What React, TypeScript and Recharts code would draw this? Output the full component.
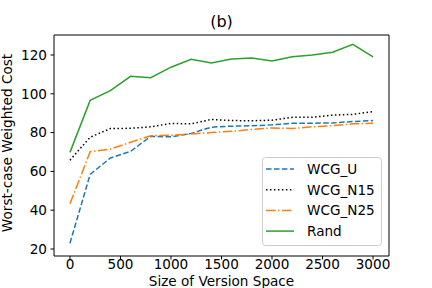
import React from "react"
import { LineChart, Line, XAxis, YAxis, ReferenceArea } from "recharts"

const sizes = [0, 200, 400, 600, 800, 1000, 1200, 1400, 1600, 1800, 2000, 2200, 2400, 2600, 2800, 3000]
const wcgU = [23.0, 58.5, 66.9, 70.3, 78.1, 77.8, 79.6, 82.8, 83.3, 83.5, 84.0, 84.8, 84.8, 85.0, 85.7, 86.2]
const wcgN15 = [65.8, 77.6, 82.1, 82.2, 83.0, 84.7, 84.5, 86.8, 86.2, 86.1, 86.4, 87.9, 87.9, 89.0, 89.4, 90.8]
const wcgN25 = [43.3, 70.1, 71.5, 75.0, 78.4, 78.6, 79.3, 80.0, 80.7, 81.6, 82.4, 82.1, 83.0, 83.6, 84.5, 84.8]
const rand = [69.8, 96.6, 101.6, 109.0, 108.3, 113.7, 117.8, 115.9, 117.9, 118.5, 116.9, 119.1, 120.0, 121.4, 125.5, 119.0]

const xTicks = [0, 500, 1000, 1500, 2000, 2500, 3000]
const yTicks = [20, 40, 60, 80, 100, 120]

const data = sizes.map((s, i) => ({ size: s, u: wcgU[i], n15: wcgN15[i], n25: wcgN25[i], rand: rand[i] }))

const series = [
  { key: "u", name: "WCG_U", color: "#1f77b4", dash: "5.55 2.4" },
  { key: "n15", name: "WCG_N15", color: "#000000", dash: "1.5 2.475" },
  { key: "n25", name: "WCG_N25", color: "#ff7f0e", dash: "9.6 2.4 1.5 2.4" },
  { key: "rand", name: "Rand", color: "#2ca02c", dash: undefined },
]

const font = "DejaVu Sans, sans-serif"
const FS = 13.6
const X_DOM: [number, number] = [-158, 3158]
const Y_DOM: [number, number] = [16.4, 130.3]

// matplotlib-style legend box, drawn on top of the plot
function LegendBox() {
  return (
    <svg width={120} height={89} style={{ position: "absolute", left: 262, top: 157 }}>
      <rect x={0.5} y={0.5} width={119} height={88} rx={3} fill="#fff" fillOpacity={0.8} stroke="#ccc" />
      {series.map((s, i) => {
        const y = 12 + i * 20.7
        return (
          <g key={s.key}>
            <line x1={4} x2={32} y1={y} y2={y} stroke={s.color} strokeWidth={1.5} strokeDasharray={s.dash} />
            <text x={45} y={y} dy="0.36em" fontSize={FS} fontFamily={font} fill="#000">
              {s.name}
            </text>
          </g>
        )
      })}
    </svg>
  )
}

export default function App() {
  return (
    <div style={{ position: "absolute", left: 0, top: 0, width: 432, height: 288, background: "#fff", overflow: "hidden" }}>
      <LineChart width={432} height={288} data={data} margin={{ top: 35, right: 43, bottom: 0, left: 0 }}>
        <XAxis
          dataKey="size"
          type="number"
          domain={X_DOM}
          ticks={xTicks}
          allowDataOverflow
          axisLine={false}
          tickLine={{ stroke: "#000" }}
          tickSize={3.5}
          tickMargin={0}
          tick={{ fill: "#000", fontSize: FS, fontFamily: font }}
          height={32}
        />
        <YAxis
          type="number"
          domain={Y_DOM}
          ticks={yTicks}
          interval={0}
          allowDataOverflow
          axisLine={false}
          tickLine={{ stroke: "#000" }}
          tickSize={3.5}
          tickMargin={3.5}
          tick={{ fill: "#000", fontSize: FS, fontFamily: font }}
          width={54}
        />
        <ReferenceArea x1={X_DOM[0]} x2={X_DOM[1]} y1={Y_DOM[0]} y2={Y_DOM[1]} fill="none" stroke="#000" strokeWidth={1} />
        {series.map((s) => (
          <Line
            key={s.key}
            dataKey={s.key}
            name={s.name}
            stroke={s.color}
            strokeWidth={1.5}
            strokeDasharray={s.dash}
            dot={false}
            isAnimationActive={false}
          />
        ))}
      </LineChart>
      <LegendBox />
      <div style={{ position: "absolute", left: 54, top: 13, width: 335, textAlign: "center", fontFamily: font, fontSize: 16, lineHeight: 1.164 }}>
        (b)
      </div>
      <div
        style={{
          position: "absolute",
          left: 8,
          top: 143,
          transform: "translate(-50%, -50%) rotate(-90deg)",
          whiteSpace: "nowrap",
          fontFamily: font,
          fontSize: FS,
          lineHeight: 1,
        }}
      >
        Worst-case Weighted Cost
      </div>
      <div style={{ position: "absolute", left: 54, top: 274, width: 335, textAlign: "center", fontFamily: font, fontSize: FS, lineHeight: 1.164, whiteSpace: "nowrap" }}>
        Size of Version Space
      </div>
    </div>
  )
}
